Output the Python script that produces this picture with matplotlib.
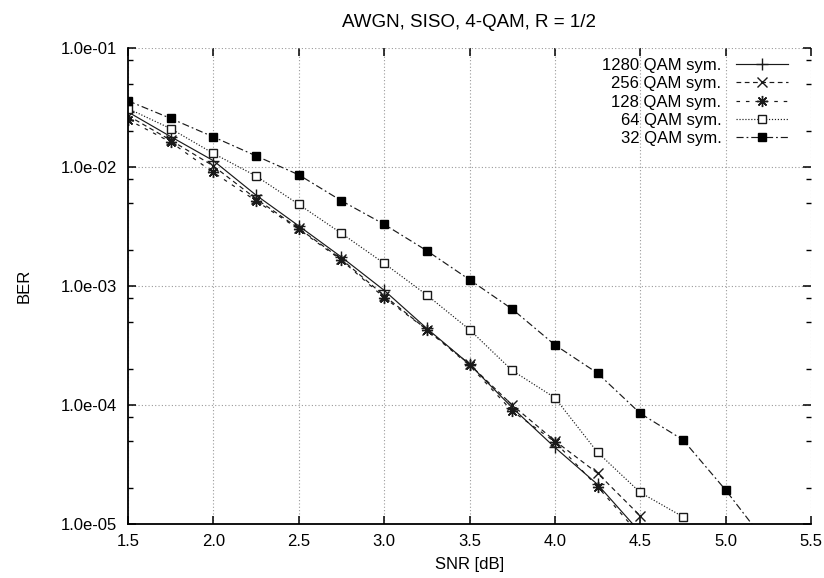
import matplotlib
matplotlib.use("Agg")
import matplotlib.pyplot as plt
from matplotlib.ticker import FixedLocator, FuncFormatter, NullLocator
import numpy as np

plt.rcParams['font.family'] = ['Liberation Sans', 'DejaVu Sans']

# SNR grid (dB) for each curve
snr_1280 = [1.5, 1.75, 2.0, 2.25, 2.5, 2.75, 3.0, 3.25, 3.5, 3.75, 4.0, 4.25, 4.5]
snr_256 = [1.5, 1.75, 2.0, 2.25, 2.5, 2.75, 3.0, 3.25, 3.5, 3.75, 4.0, 4.25, 4.5]
snr_128 = [1.5, 1.75, 2.0, 2.25, 2.5, 2.75, 3.0, 3.25, 3.5, 3.75, 4.0, 4.25, 4.5]
snr_64 = [1.5, 1.75, 2.0, 2.25, 2.5, 2.75, 3.0, 3.25, 3.5, 3.75, 4.0, 4.25, 4.5, 4.75]
snr_32 = [1.5, 1.75, 2.0, 2.25, 2.5, 2.75, 3.0, 3.25, 3.5, 3.75, 4.0, 4.25, 4.5, 4.75, 5.0, 5.25]

# Bit error rates per block length
ber_1280 = [2.9e-2, 1.8e-2, 1.13e-2, 5.8e-3, 3.2e-3, 1.75e-3, 9.2e-4, 4.4e-4, 2.2e-4, 9.5e-5, 4.4e-5, 2.15e-5, 8.5e-6]
ber_256 = [2.7e-2, 1.68e-2, 1.02e-2, 5.4e-3, 3.05e-3, 1.68e-3, 8.3e-4, 4.3e-4, 2.2e-4, 1.0e-4, 5.0e-5, 2.67e-5, 1.17e-5]
ber_128 = [2.5e-2, 1.62e-2, 9.0e-3, 5.2e-3, 3.0e-3, 1.65e-3, 8.0e-4, 4.3e-4, 2.15e-4, 8.9e-5, 4.9e-5, 2.06e-5, 8.0e-6]
ber_64 = [3.1e-2, 2.1e-2, 1.3e-2, 8.4e-3, 4.85e-3, 2.77e-3, 1.55e-3, 8.4e-4, 4.3e-4, 1.95e-4, 1.15e-4, 4.0e-5, 1.84e-5, 1.15e-5]
ber_32 = [3.6e-2, 2.56e-2, 1.79e-2, 1.24e-2, 8.6e-3, 5.2e-3, 3.3e-3, 1.98e-3, 1.13e-3, 6.4e-4, 3.2e-4, 1.85e-4, 8.5e-5, 5.1e-5, 1.93e-5, 6.6e-6]

labels = ["1280 QAM sym.", "256 QAM sym.", "128 QAM sym.", "64 QAM sym.", "32 QAM sym."]

x_ticks = [1.5, 2.0, 2.5, 3.0, 3.5, 4.0, 4.5, 5.0, 5.5]
y_ticks = [1e-5, 1e-4, 1e-3, 1e-2, 1e-1]

W, H = 824, 578
fig = plt.figure(figsize=(W / 100, H / 100), dpi=100)
ax = fig.add_axes([128 / W, 1 - 524 / H, (811 - 128) / W, (524 - 48) / H])

lc = "#1a1a1a"
lw = 0.85
ax.plot(snr_1280, ber_1280, color=lc, lw=lw, ls="-", marker="+", ms=8, mew=1.0, label=labels[0])
ax.plot(snr_256, ber_256, color=lc, lw=lw, ls=(0, (4, 3)), marker="x", ms=6.5, mew=1.0, label=labels[1])
ax.plot(snr_128, ber_128, color=lc, lw=lw, ls=(0, (3, 5)), marker=(8, 2, 0), ms=8, mew=1.0, label=labels[2])
ax.plot(snr_64, ber_64, color=lc, lw=lw, ls=(0, (1, 1.5)), marker="s", ms=6.2, mew=1.0,
        mfc="white", mec=lc, label=labels[3])
ax.plot(snr_32, ber_32, color=lc, lw=lw, ls=(0, (6, 2.5, 1.5, 2.5)), marker="s", ms=6.2,
        mfc="black", mec="black", label=labels[4])

ax.set_yscale("log")
ax.set_xlim(1.5, 5.5)
ax.set_ylim(1e-5, 1e-1)

ax.xaxis.set_major_locator(FixedLocator(x_ticks))
ax.xaxis.set_major_formatter(FuncFormatter(lambda v, p: f"{v:.1f}"))
ax.xaxis.set_minor_locator(NullLocator())
ax.yaxis.set_major_locator(FixedLocator(y_ticks))
ax.yaxis.set_major_formatter(FuncFormatter(lambda v, p: f"{v:.1e}"))
minor = [m * 10.0 ** e for e in range(-5, -1) for m in (2, 5, 8)]
ax.yaxis.set_minor_locator(FixedLocator(minor))
ax.yaxis.set_minor_formatter(FuncFormatter(lambda v, p: ""))

ax.grid(True, which="major", color="#9a9a9a", ls=(0, (1, 2)), lw=0.8)
ax.set_axisbelow(True)

for s in ("top", "right"):
    ax.spines[s].set_visible(False)
for s in ("left", "bottom"):
    ax.spines[s].set_linewidth(1.3)
    ax.spines[s].set_color("black")

ax.tick_params(which="both", direction="in", top=True, right=True, color="black")
ax.tick_params(which="major", length=6, width=1.1, labelsize=12, pad=7)
ax.tick_params(which="minor", length=3.5, width=1.0)
ax.tick_params(axis="y", which="major", pad=8)

ax.set_title("AWGN, SISO, 4-QAM, R = 1/2", fontsize=13.5, pad=15)
ax.set_xlabel("SNR [dB]", fontsize=12, labelpad=6)
ax.set_ylabel("BER", fontsize=12)
ax.yaxis.set_label_coords(-0.141, 0.5)

ax.legend(loc="upper right", bbox_to_anchor=((788 - 128) / 683, 0.979), frameon=False,
          markerfirst=False, fontsize=12, handlelength=3.1, handletextpad=0.9,
          labelspacing=0.2, borderpad=0, borderaxespad=0, numpoints=1)

fig.savefig("out.png", dpi=100)
